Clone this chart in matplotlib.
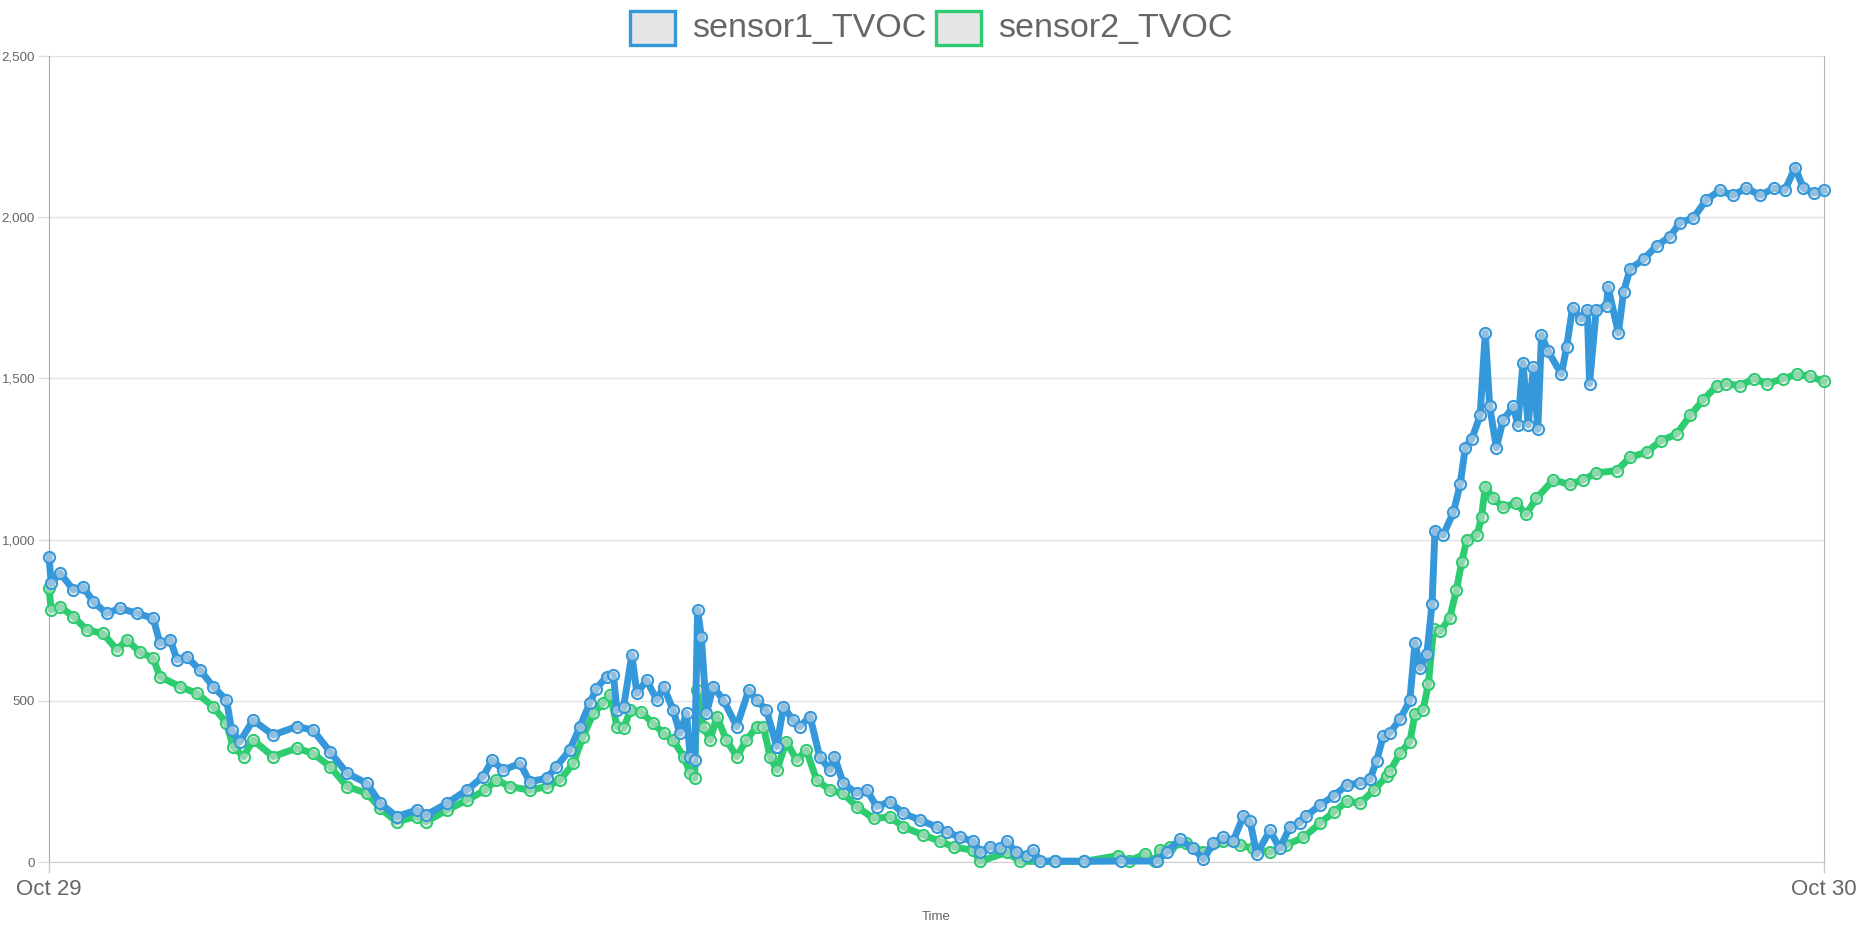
import matplotlib
matplotlib.use('Agg')
import matplotlib.pyplot as plt
import matplotlib.dates as mdates
from matplotlib.patches import Rectangle
from matplotlib.ticker import FuncFormatter, MultipleLocator
import pandas as pd

# hours after Oct 29 00:00
s1_hours = [0.00, 0.03, 0.15, 0.33, 0.46, 0.60, 0.78, 0.96, 1.19, 1.41, 1.50, 1.64, 1.73, 1.86,
            2.04, 2.22, 2.40, 2.47, 2.58, 2.76, 3.03, 3.35, 3.57, 3.80, 4.03, 4.30, 4.48, 4.70,
            4.97, 5.10, 5.38, 5.65, 5.87, 5.99, 6.14, 6.37, 6.50, 6.73, 6.86, 7.04, 7.18, 7.31,
            7.40, 7.54, 7.63, 7.68, 7.77, 7.88, 7.95, 8.08, 8.22, 8.31, 8.44, 8.53, 8.62, 8.67,
            8.73, 8.77, 8.82, 8.89, 8.98, 9.12, 9.30, 9.46, 9.57, 9.70, 9.84, 9.93, 10.06, 10.15,
            10.29, 10.42, 10.56, 10.62, 10.74, 10.92, 11.06, 11.19, 11.37, 11.55, 11.78, 12.00,
            12.14, 12.32, 12.50, 12.59, 12.72, 12.86, 12.95, 13.08, 13.22, 13.31, 13.40, 13.60,
            14.00, 14.50, 14.98, 15.11, 15.29, 15.47, 15.61, 15.74, 15.88, 16.01, 16.15, 16.24,
            16.33, 16.51, 16.64, 16.78, 16.91, 17.00, 17.19, 17.37, 17.55, 17.73, 17.86, 17.95,
            18.04, 18.13, 18.27, 18.40, 18.47, 18.54, 18.63, 18.70, 18.74, 18.85, 18.99, 19.08,
            19.15, 19.24, 19.35, 19.42, 19.48, 19.57, 19.66, 19.80, 19.86, 19.93, 20.00, 20.07,
            20.13, 20.18, 20.27, 20.45, 20.52, 20.60, 20.72, 20.80, 20.83, 20.92, 21.06, 21.08,
            21.22, 21.29, 21.38, 21.56, 21.74, 21.92, 22.05, 22.23, 22.41, 22.59, 22.77, 22.95,
            23.14, 23.32, 23.47, 23.61, 23.72, 23.86, 24.00]
s1_tvoc = [947, 865, 896, 844, 854, 807, 771, 787, 771, 756, 678, 690, 627, 637,
           596, 544, 502, 409, 373, 440, 394, 420, 409, 342, 275, 244, 182, 141,
           161, 146, 182, 223, 265, 316, 285, 306, 249, 260, 296, 347, 420, 492,
           538, 575, 580, 471, 482, 642, 523, 564, 502, 544, 471, 399, 461, 326,
           316, 782, 699, 461, 544, 502, 420, 533, 502, 471, 358, 482, 440, 420,
           451, 327, 285, 327, 244, 213, 223, 172, 187, 151, 130, 109,
           94, 76, 64, 30, 47, 42, 64, 30, 19, 36, 2, 3,
           2, 3, 3, 30, 70, 42, 8, 59, 76, 64, 143, 126,
           25, 98, 42, 109, 121, 143, 177, 205, 239, 245, 256, 313,
           390, 400, 444, 501, 680, 601, 644, 800, 1028, 1014, 1085, 1171,
           1285, 1313, 1385, 1641, 1413, 1285, 1370, 1413, 1356, 1548, 1356, 1534,
           1342, 1634, 1584, 1513, 1598, 1719, 1684, 1712, 1484, 1712, 1726, 1783,
           1641, 1769, 1840, 1869, 1912, 1940, 1983, 1997, 2054, 2083, 2068, 2090,
           2068, 2090, 2083, 2154, 2090, 2075, 2083]

s2_hours = [0.00, 0.03, 0.15, 0.33, 0.51, 0.73, 0.92, 1.05, 1.23, 1.41, 1.50, 1.77, 2.00, 2.22,
            2.40, 2.49, 2.63, 2.76, 3.03, 3.35, 3.57, 3.80, 4.03, 4.30, 4.48, 4.70, 4.97, 5.10,
            5.38, 5.65, 5.90, 6.05, 6.23, 6.50, 6.73, 6.91, 7.09, 7.22, 7.36, 7.49, 7.59, 7.68,
            7.77, 7.86, 8.00, 8.17, 8.31, 8.44, 8.58, 8.67, 8.73, 8.76, 8.85, 8.94, 9.03, 9.16,
            9.30, 9.43, 9.57, 9.66, 9.75, 9.84, 9.97, 10.11, 10.24, 10.38, 10.56, 10.74, 10.92,
            11.15, 11.37, 11.55, 11.82, 12.05, 12.23, 12.50, 12.59, 12.95, 13.13, 13.60, 14.00,
            14.46, 14.60, 14.82, 14.95, 15.02, 15.16, 15.38, 15.61, 15.88, 16.10, 16.28, 16.51,
            16.73, 16.96, 17.19, 17.37, 17.55, 17.73, 17.91, 18.09, 18.13, 18.27, 18.40, 18.47,
            18.58, 18.65, 18.72, 18.81, 18.94, 19.03, 19.10, 19.17, 19.31, 19.37, 19.42, 19.53,
            19.66, 19.84, 19.97, 20.11, 20.34, 20.56, 20.74, 20.92, 21.20, 21.38, 21.60, 21.79,
            22.01, 22.19, 22.37, 22.55, 22.68, 22.86, 23.05, 23.23, 23.45, 23.63, 23.81, 24.00]
s2_tvoc = [849, 782, 792, 761, 720, 709, 658, 689, 651, 632, 575, 544, 523, 482,
           430, 358, 327, 378, 327, 353, 337, 296, 234, 213, 166, 125, 141, 125,
           161, 192, 223, 255, 234, 223, 234, 254, 306, 389, 461, 492, 518, 420,
           415, 471, 466, 430, 399, 378, 327, 275, 259, 533, 420, 378, 451, 378,
           327, 378, 420, 420, 327, 285, 373, 316, 347, 254, 223, 213, 172,
           135, 140, 109, 84, 64, 47, 36, 2, 30, 2, 2, 2,
           20, 3, 25, 3, 36, 47, 59, 30, 64, 53, 42, 30,
           53, 76, 121, 155, 188, 183, 222, 267, 281, 338, 373, 459,
           473, 551, 722, 715, 758, 843, 929, 1000, 1014, 1071, 1164, 1128,
           1100, 1114, 1078, 1128, 1185, 1171, 1185, 1207, 1214, 1256, 1271, 1306,
           1328, 1385, 1434, 1477, 1484, 1477, 1499, 1484, 1499, 1513, 1506, 1491]

series_names = ['sensor1_TVOC', 'sensor2_TVOC']
series_colors = ['#3498db', '#2ecc71']
day_start = pd.Timestamp('2019-10-29')
day_end = pd.Timestamp('2019-10-30')

plt.rcParams['font.family'] = ['Liberation Sans', 'DejaVu Sans']
W, H = 1860, 930
fig = plt.figure(figsize=(W / 100, H / 100), dpi=100)
ax = fig.add_axes([49 / W, 1 - 862 / H, (1824 - 49) / W, (862 - 56) / H])

t1 = day_start + pd.to_timedelta(s1_hours, unit='h')
t2 = day_start + pd.to_timedelta(s2_hours, unit='h')

# green first so the blue one ends up on top, like the original
for t, v, c, z in [(t2, s2_tvoc, series_colors[1], 3), (t1, s1_tvoc, series_colors[0], 4)]:
    ax.plot(t, v, color=c, lw=5, marker='o', ms=8, mew=1.5, mec=c,
            mfc=(0.88, 0.88, 0.88, 0.55), zorder=z, clip_on=False)

ax.set_ylim(0, 2500)
ax.set_xlim(day_start, day_end)
ax.yaxis.set_major_locator(MultipleLocator(500))
ax.yaxis.set_major_formatter(FuncFormatter(lambda v, p: f'{int(v):,}'))
ax.set_xticks([day_start, day_end])
ax.xaxis.set_major_formatter(mdates.DateFormatter('%b %d'))

ax.grid(axis='y', color='#e2e2e2', lw=1)
ax.set_axisbelow(True)
ax.spines['top'].set_visible(False)
ax.spines['left'].set_color('#a8a8a8')
ax.spines['right'].set_color('#b8b8b8')
ax.spines['bottom'].set_color('#cccccc')
ax.tick_params(axis='y', length=8, width=1, color='#dddddd', labelsize=9.6,
               labelcolor='#666666', pad=2)
ax.tick_params(axis='x', length=8, width=1, color='#c8c8c8', labelsize=16,
               labelcolor='#666666', pad=4)
ax.set_xlabel('Time', fontsize=9.5, color='#666666', labelpad=8)

# legend drawn by hand at the top
for bx, tx, label, c in [(630, 692, series_names[0], series_colors[0]),
                         (936, 998, series_names[1], series_colors[1])]:
    fig.add_artist(Rectangle((bx / W, 1 - 45 / H), 45 / W, 34 / H, transform=fig.transFigure,
                             facecolor='#e6e6e6', edgecolor=c, lw=2.4))
    fig.text(tx / W, 1 - 28 / H, label, fontsize=24.5, color='#666666',
             ha='left', va='center')

fig.savefig('out.png', dpi=100)
